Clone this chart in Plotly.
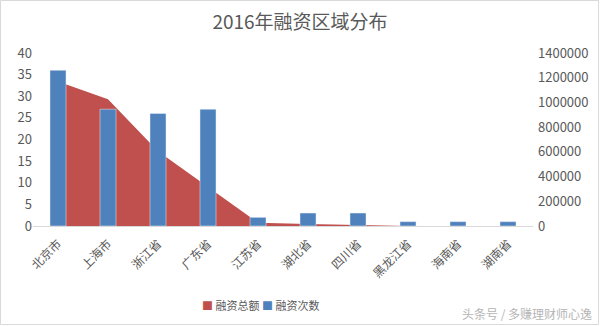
import plotly.graph_objects as go

categories = ["北京市", "上海市", "浙江省", "广东省", "江苏省", "湖北省", "四川省", "黑龙江省", "海南省", "湖南省"]
total_amount = [1170000, 1025000, 605000, 315000, 27000, 16000, 8000, 1000, 500, 500]
deal_count = [36, 27, 26, 27, 2, 3, 3, 1, 1, 1]
left_ticks = [0, 5, 10, 15, 20, 25, 30, 35, 40]
right_ticks = [0, 200000, 400000, 600000, 800000, 1000000, 1200000, 1400000]
series_names = ["融资总额", "融资次数"]
series_colors = ["#C0504D", "#4F81BD"]

FONT = "Noto Sans CJK SC"
GREY = "#595959"

fig = go.Figure()
fig.add_trace(go.Scatter(
    x=categories, y=total_amount, name=series_names[0], mode="lines",
    line=dict(width=0, color=series_colors[0]), fill="tozeroy", fillcolor=series_colors[0],
    yaxis="y", hoverinfo="skip", showlegend=False))
fig.add_trace(go.Bar(
    x=categories, y=deal_count, name=series_names[1], marker_color=series_colors[1],
    width=0.32, yaxis="y2", showlegend=False))

fig.update_layout(
    width=600, height=326,
    margin=dict(l=33, r=67, t=53, b=100),
    paper_bgcolor="white", plot_bgcolor="white",
    font=dict(family=FONT, color=GREY, size=12),
    title=dict(text="2016年融资区域分布", x=0.5, xanchor="center",
               y=1 - 22 / 326, yanchor="middle",
               font=dict(size=19, color=GREY, family=FONT)),
    xaxis=dict(type="category", tickangle=-45, showline=True, linecolor="#D9D9D9",
               linewidth=1, showgrid=False, ticks="", tickfont=dict(size=12, color=GREY),
               ticklabelstandoff=5, range=[-0.5, 9.5]),
    yaxis=dict(side="right", range=[0, 1400000], tickvals=right_ticks,
               ticktext=[str(v) for v in right_ticks],
               showgrid=False, zeroline=False, showline=False,
               ticklabelstandoff=4,
               tickfont=dict(size=13, color=GREY)),
    yaxis2=dict(side="left", overlaying="y", range=[0, 40], tickvals=left_ticks,
                showgrid=False, zeroline=False, showline=False,
                tickfont=dict(size=13, color=GREY)),
    showlegend=False,
    bargap=0.68,
)

legend_text = " ".join(
    f"<span style='color:{c}'>■</span> {n}" for n, c in zip(series_names, series_colors))
fig.add_annotation(text=legend_text, xref="paper", yref="paper",
                   x=(260.5 - 33) / 500, xanchor="center", y=(226 - 305) / 173,
                   yanchor="middle", showarrow=False,
                   font=dict(size=11, color=GREY, family=FONT))

fig.add_annotation(text="头条号 / 多赚理财师心逸", xref="paper", yref="paper",
                   x=(594 - 33) / 500, xanchor="right", y=(226 - 313) / 173,
                   yanchor="middle", showarrow=False,
                   font=dict(size=12, color="#B5B5B5", family=FONT))
fig.add_shape(type="rect", xref="paper", yref="paper",
              x0=-32.5 / 500, x1=(598.5 - 33) / 500,
              y0=(226 - 324.5) / 173, y1=(226 - 0.5) / 173,
              line=dict(color="#D9D9D9", width=1), fillcolor="rgba(0,0,0,0)", layer="below")

fig.write_html("out.html")
